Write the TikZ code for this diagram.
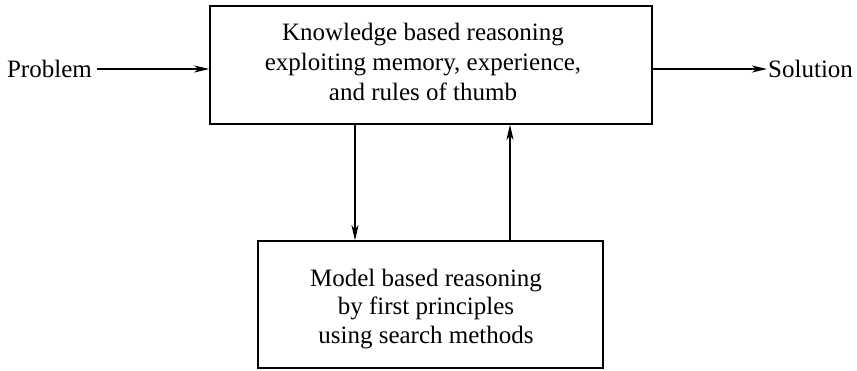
\documentclass[tikz,border=0pt]{standalone}
\usepackage{fontspec}
\setmainfont{Liberation Serif}
\usetikzlibrary{arrows.meta}
\begin{document}
\begin{tikzpicture}[x=1pt,y=-1pt,
  box/.style={draw, line width=1.5pt, inner sep=0pt},
  txt/.style={align=center, inner sep=0pt},
  lbl/.style={inner sep=0pt, font=\fontsize{25}{28}\selectfont},
  arr/.style={line width=1.4pt, -{Stealth[length=15pt,width=7pt,inset=4pt]}}]
\useasboundingbox (0,0) rectangle (857,370);
\node[box, minimum width=442pt, minimum height=118pt] (top) at (431,65) {};
\node[txt, font=\fontsize{25}{30}\selectfont] (toptext) at (423,62)
  {Knowledge based reasoning\\exploiting memory, experience,\\and rules of thumb};
\node[box, minimum width=345pt, minimum height=127pt] (bot) at (430.5,304.5) {};
\node[txt, font=\fontsize{25}{28.5}\selectfont] (bottext) at (426,309)
  {Model based reasoning\\by first principles\\using search methods};
\node[lbl, anchor=east] (prob) at (92,69) {Problem};
\node[lbl, anchor=west] (sol) at (768,69) {Solution};
\draw[arr] ([xshift=5pt]prob.east) -- (top.west |- prob.east);
\draw[arr] (top.east |- sol.west) -- ([xshift=-1pt]sol.west);
\draw[arr] (top.south -| 355,0) -- (bot.north -| 355,0);
\draw[arr] (bot.north -| 510,0) -- (top.south -| 510,0);
\end{tikzpicture}
\end{document}
